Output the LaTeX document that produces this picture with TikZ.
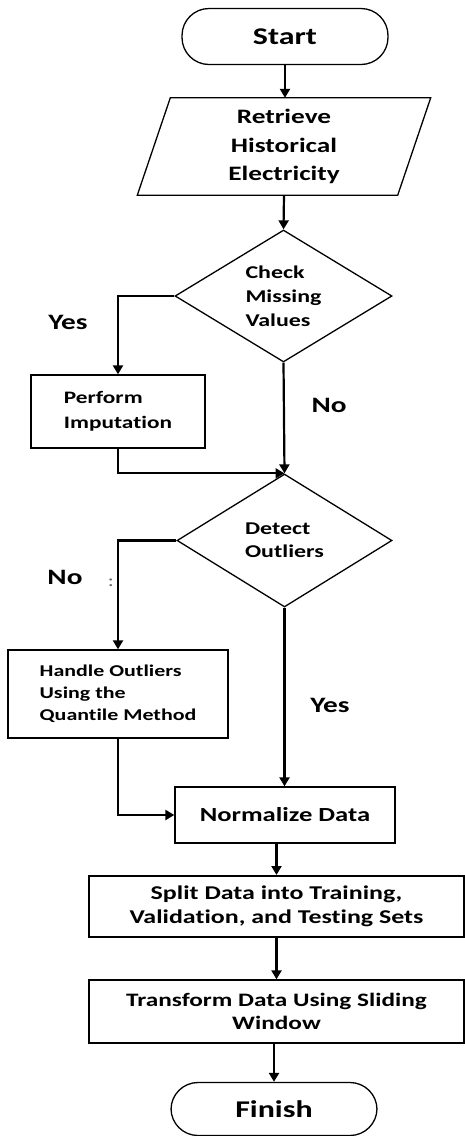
\documentclass[tikz,border=0pt]{standalone}
\usepackage{fontspec}
\setmainfont{Carlito}[FakeStretch=1.33, Ligatures=NoCommon]
\usetikzlibrary{shapes.geometric, arrows.meta}
\tikzset{
    terminal/.style={
        draw, line width=1.3pt, rounded corners=27pt,
        minimum width=206pt, minimum height=56pt,
        font=\bfseries\fontsize{24}{28}\selectfont
    },
    process/.style={
        draw, line width=1.3pt, align=center,
        font=\bfseries\fontsize{20}{23}\selectfont
    },
    decision/.style={
        draw, diamond, line width=1.3pt, inner sep=0pt, aspect=1.6,
        align=left, font=\bfseries\fontsize{18}{24}\selectfont
    },
    flow/.style={line width=2.2pt, -{Triangle[length=9pt, width=10pt]}},
    answer/.style={font=\bfseries\fontsize{22}{26}\selectfont},
}

\begin{document}
\begin{tikzpicture}[x=1pt, y=-1pt]

    \useasboundingbox (0, 0) rectangle (465, 1136);

    \node[terminal] (start) at (285, 36.5) {Start};

    \node[align=center, inner sep=0pt, minimum width=260pt, minimum height=97pt,
          font=\bfseries\fontsize{20.5}{28.5}\selectfont] (retrieve) at (284, 146.5)
          {Retrieve\\Historical\\Electricity};
    \draw[line width=1.3pt] ([xshift=16.5pt]retrieve.north west) -- ([xshift=16.5pt]retrieve.north east)
        -- ([xshift=-16.5pt]retrieve.south east) -- ([xshift=-16.5pt]retrieve.south west) -- cycle;

    \node[decision, minimum width=217pt, minimum height=132pt] (check) at (283.5, 296)
        {Check\\Missing\\Values};
    \node[process, align=left, minimum width=174pt, minimum height=73pt,
          font=\bfseries\fontsize{17.5}{25}\selectfont] (impute) at (118, 411.5)
        {Perform\\Imputation};

    \node[decision, minimum width=215pt, minimum height=133pt,
          font=\bfseries\fontsize{18}{23}\selectfont] (detect) at (284.5, 540.5)
        {Detect\\Outliers};
    \node[process, align=left, minimum width=220pt, minimum height=88pt,
          font=\bfseries\fontsize{16.5}{22}\selectfont] (handle) at (118, 694)
        {Handle Outliers\\Using the\\Quantile Method};

    \node[process, minimum width=220pt, minimum height=56pt] (normalize) at (285, 815)
        {Normalize Data};
    \node[process, line width=2pt, minimum width=375pt, minimum height=61pt,
          font=\bfseries\fontsize{19.5}{23.5}\selectfont] (split) at (276.5, 906.5)
        {Split Data into Training,\\Validation, and Testing Sets};
    \node[process, minimum width=375pt, minimum height=63pt,
          font=\bfseries\fontsize{19}{23}\selectfont] (transform) at (276.5, 1011.5)
        {Transform Data Using Sliding\\Window};
    \node[terminal, minimum height=53pt] (finish) at (274, 1109) {Finish};

    % main line
    \draw[flow] (start.south) -- (start.south |- retrieve.north);
    \draw[flow] (retrieve.south) -- (check.north);
    \draw[flow] (check.south) -- (detect.north);
    \draw[flow] (detect.south) -- (normalize.north -| detect.south);
    \draw[flow] (split.north |- normalize.south) -- (split.north);
    \draw[flow] (split.south) -- (transform.north);
    \draw[flow] (transform.south -| finish.north) -- (finish.north);

    % side branches
    \draw[flow] (check.west) -| (impute.north);
    \draw[flow] (impute.south) |- (detect.north);
    \draw[flow] (detect.west) -| (handle.north);
    \draw[flow] (handle.south) |- (normalize.west);

    \node[answer] (yes one) at (68, 322) {Yes};
    \node[answer] (no one) at (329, 405) {No};
    \node[answer] (no two) at (65, 577) {No};
    \node[answer] (yes two) at (330, 705) {Yes};
    \node[text=black!60, font=\fontsize{17}{17}\selectfont] (dots) at (111, 583) {:};

\end{tikzpicture}
\end{document}
